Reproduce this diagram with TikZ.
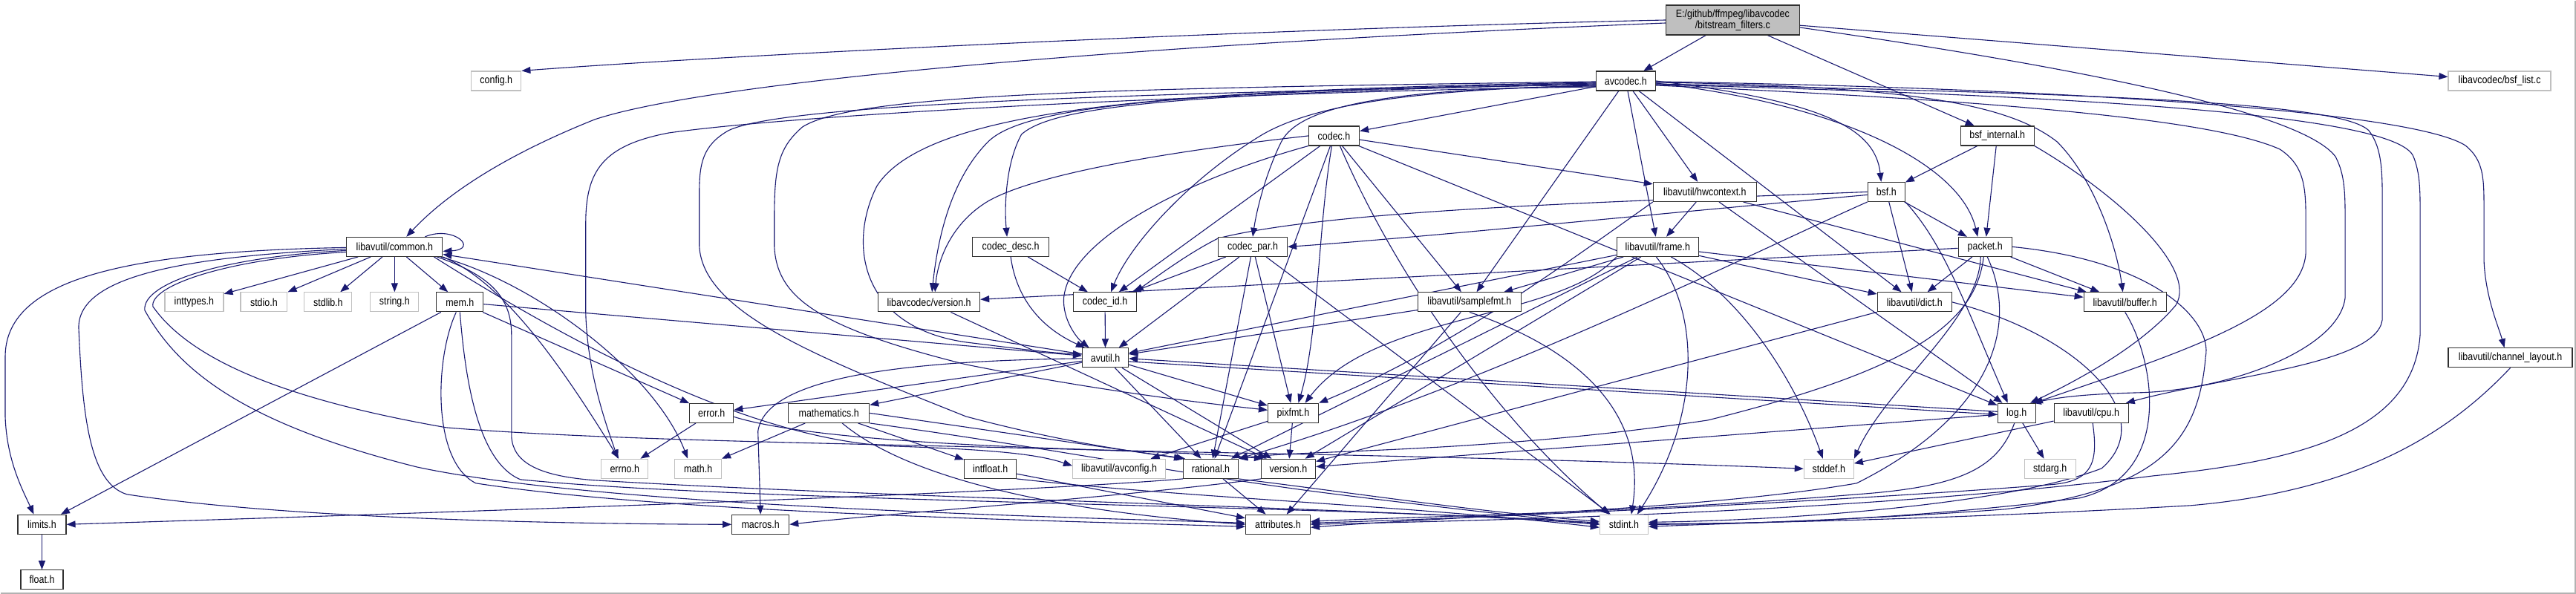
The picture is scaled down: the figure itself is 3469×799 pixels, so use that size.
\documentclass[tikz,border=0pt]{standalone}
\usepackage{fontspec}
\setmainfont{Liberation Sans}
\newfontfamily\nodefont[FakeStretch=0.86]{Liberation Sans}
\usetikzlibrary{arrows.meta}
\definecolor{edgec}{HTML}{191970}
\definecolor{gborder}{HTML}{C0C0C0}
\definecolor{mainfill}{HTML}{BFBFBF}
\definecolor{bborder}{HTML}{303030}
\pgfdeclarelayer{bg}
\pgfdeclarelayer{edges}
\pgfsetlayers{bg,edges,main}
\begin{document}
\begin{tikzpicture}[x=1pt,y=-1pt,
 box/.style={draw=bborder,line width=1.2pt,fill=white,minimum height=26pt,inner sep=0pt,font=\nodefont\fontsize{14.5}{16}\selectfont},
 gbox/.style={box,draw=gborder},
 e/.style={draw=edgec,line width=1.1pt,-{Triangle[length=12pt,width=9pt]}}]
\begin{pgfonlayer}{bg}
\fill[white] (0,0) rectangle (3469,799);
\draw[gray!60,line width=2pt] (3468,0) -- (3468,798) -- (0,798);
\end{pgfonlayer}
\useasboundingbox (0,0) rectangle (3469,799);
% nodes
\node[box,minimum width=180pt,minimum height=40pt,fill=mainfill,align=center,font=\nodefont\fontsize{14.5}{15}\selectfont] (m) at (2333,26) {E:/github/ffmpeg/libavcodec\\/bitstream\_filters.c};
\node[gbox,minimum width=67pt] (config) at (667.5,108) {config.h};
\node[box,minimum width=80pt] (av) at (2189,108) {avcodec.h};
\node[gbox,minimum width=138pt] (bsflist) at (3366,108) {libavcodec/bsf\_list.c};
\node[box,minimum width=68pt] (codec) at (1796,182) {codec.h};
\node[box,minimum width=99pt] (bsfint) at (2689.5,182) {bsf\_internal.h};
\node[box,minimum width=139pt] (hw) at (2295.5,257.5) {libavutil/hwcontext.h};
\node[box,minimum width=50pt] (bsf) at (2540,257.5) {bsf.h};
\node[box,minimum width=129pt] (common) at (530.5,331.5) {libavutil/common.h};
\node[box,minimum width=103pt] (cdesc) at (1360.5,331.5) {codec\_desc.h};
\node[box,minimum width=93pt] (cpar) at (1686.5,331.5) {codec\_par.h};
\node[box,minimum width=110pt] (frame) at (2232,331.5) {libavutil/frame.h};
\node[box,minimum width=72pt] (packet) at (2673,331.5) {packet.h};
\node[gbox,minimum width=79pt] (inttypes) at (260.5,406) {inttypes.h};
\node[gbox,minimum width=63pt] (stdio) at (354.5,406) {stdio.h};
\node[gbox,minimum width=64pt] (stdlib) at (441,406) {stdlib.h};
\node[gbox,minimum width=65pt] (string) at (530.5,406) {string.h};
\node[box,minimum width=63pt] (mem) at (618.5,406) {mem.h};
\node[box,minimum width=137pt] (lcver) at (1250.5,406) {libavcodec/version.h};
\node[box,minimum width=85pt] (cid) at (1487.5,406) {codec\_id.h};
\node[box,minimum width=139pt] (sfmt) at (1978.5,406) {libavutil/samplefmt.h};
\node[box,minimum width=100pt] (dict) at (2578,406) {libavutil/dict.h};
\node[box,minimum width=111pt] (buffer) at (2861.5,406) {libavutil/buffer.h};
\node[box,minimum width=62pt] (avutil) at (1488,481) {avutil.h};
\node[box,minimum width=167pt] (chl) at (3380.5,481) {libavutil/channel\_layout.h};
\node[box,minimum width=59pt] (error) at (957.5,555.5) {error.h};
\node[box,minimum width=109pt] (maths) at (1115.5,555.5) {mathematics.h};
\node[box,minimum width=68pt] (pixfmt) at (1741,555.5) {pixfmt.h};
\node[box,minimum width=51pt] (log) at (2715.5,555.5) {log.h};
\node[box,minimum width=100pt] (cpu) at (2816,555.5) {libavutil/cpu.h};
\node[gbox,minimum width=63pt] (errno) at (840.5,630.5) {errno.h};
\node[gbox,minimum width=63pt] (mathh) at (939.5,630.5) {math.h};
\node[box,minimum width=70pt] (intfloat) at (1333,630.5) {intfloat.h};
\node[gbox,minimum width=125pt] (avconfig) at (1506.5,630.5) {libavutil/avconfig.h};
\node[box,minimum width=74pt] (rational) at (1630,630.5) {rational.h};
\node[box,minimum width=73pt] (version) at (1734.5,630.5) {version.h};
\node[gbox,minimum width=67pt] (stddef) at (2462.5,630.5) {stddef.h};
\node[gbox,minimum width=69pt] (stdarg) at (2760.5,630.5) {stdarg.h};
\node[box,minimum width=65pt] (limits) at (55.5,705.5) {limits.h};
\node[box,minimum width=77pt] (macros) at (1023.5,705.5) {macros.h};
\node[box,minimum width=87pt] (attr) at (1720.5,705.5) {attributes.h};
\node[gbox,minimum width=65pt] (stdint) at (2186.5,705.5) {stdint.h};
\node[box,minimum width=57pt] (float) at (55.5,780) {float.h};
\begin{pgfonlayer}{edges}
% main file
\draw[e] (m) -- (av);
\draw[e] (m.west) .. controls (1700,38) and (1000,72) .. (config.north east);
\draw[e] ([yshift=-4pt]m.west) .. controls (1500,60) and (950,110) .. (800,160) .. controls (700,200) and (610,250) .. ([xshift=16pt]common.north);
\draw[e] (m) -- (bsfint);
\draw[e] (m) -- (bsflist);
\draw[e] ([yshift=-10pt]m.east) .. controls (2800,90) and (3100,150) .. (3145,210) .. controls (3158,235) and (3158,260) .. (3158,300) -- (3158,400) .. controls (3150,470) and (3000,525) .. (2880,528) .. controls (2800,530) and (2770,535) .. ([xshift=-5pt]log.north east);
% avcodec.h
\draw[e] (av) -- (codec);
\draw[e] (av) -- (hw);
\draw[e] (av) -- (frame);
\draw[e] (av.east) .. controls (2450,135) and (2525,170) .. ([xshift=-7pt]bsf.north);
\draw[e] ([yshift=-3pt]av.east) .. controls (2480,140) and (2640,220) .. ([xshift=-10pt]packet.north);
\draw[e] (av) -- (dict);
\draw[e] ([yshift=-2pt]av.east) .. controls (2550,115) and (2700,135) .. (2770,190) .. controls (2820,240) and (2850,330) .. ([xshift=-3pt]buffer.north);
\draw[e] ([yshift=-6pt]av.east) .. controls (2700,135) and (2980,160) .. (3070,200) .. controls (3100,220) and (3105,245) .. (3105,290) -- (3105,340) .. controls (3100,420) and (2950,470) .. ([xshift=-3pt]log.north east);
\draw[e] ([yshift=-4pt]av.east) .. controls (2800,125) and (3150,135) .. (3190,175) .. controls (3205,195) and (3208,220) .. (3208,260) -- (3208,430) .. controls (3200,490) and (3000,505) .. ([xshift=-4pt]cpu.north east);
\draw[e] ([yshift=-5pt]av.east) .. controls (2900,130) and (3230,160) .. (3250,210) .. controls (3258,230) and (3259,250) .. (3259,280) -- (3259,450) .. controls (3250,580) and (3100,620) .. (2900,640) .. controls (2500,690) and (2000,700) .. (attr.east);
\draw[e] ([yshift=-1pt]av.east) .. controls (2800,118) and (3250,150) .. (3320,195) .. controls (3345,215) and (3345,240) .. (3345,280) -- (3345,350) .. controls (3347,400) and (3365,440) .. ([xshift=-8pt]chl.north);
\draw[e] ([yshift=-8pt]av.west) .. controls (1700,122) and (1100,150) .. (900,178) .. controls (810,195) and (788,230) .. (788,300) -- (788,420) .. controls (790,500) and (815,570) .. ([xshift=-9pt]errno.north);
\draw[e] ([yshift=-4pt]av.west) .. controls (1600,125) and (1420,140) .. (1375,180) .. controls (1353,220) and (1352,280) .. ([xshift=-5pt]cdesc.north);
\draw[e] ([yshift=-3pt]av.west) .. controls (1600,122) and (1380,140) .. (1330,190) .. controls (1280,240) and (1262,320) .. ([xshift=4pt]lcver.north);
\draw[e] ([yshift=-6pt]av.west) .. controls (1900,120) and (1770,140) .. (1700,180) .. controls (1600,240) and (1520,330) .. ([xshift=8pt]cid.north);
\draw[e] ([yshift=-7pt]av.west) .. controls (1880,118) and (1750,140) .. (1725,190) .. controls (1705,230) and (1692,280) .. (cpar.north);
\draw[e] ([yshift=-2pt]av.west) .. controls (1600,120) and (1250,140) .. (1180,250) .. controls (1140,330) and (1160,440) .. (1300,460) .. controls (1380,470) and (1420,475) .. ([yshift=5pt]avutil.west);
\draw[e] ([yshift=-1pt]av.west) .. controls (1500,118) and (1150,125) .. (1080,170) .. controls (1045,200) and (1042,230) .. (1042,300) -- (1042,330) .. controls (1045,400) and (1100,440) .. (1300,490) .. controls (1500,530) and (1650,545) .. ([yshift=4pt]pixfmt.west);
\draw[e] ([yshift=-5pt]av.west) .. controls (1500,125) and (1050,140) .. (980,175) .. controls (945,195) and (941,220) .. (941,260) -- (941,330) .. controls (945,420) and (1100,480) .. (1300,560) .. controls (1450,600) and (1550,610) .. ([xshift=3pt]rational.north west);
\draw[e] (av) -- (sfmt);
% codec.h
\draw[e] (codec) -- (hw);
\draw[e] (codec.south west) .. controls (1600,240) and (1440,320) .. (1432,400) .. controls (1430,430) and (1450,455) .. ([xshift=-22pt]avutil.north);
\draw[e] (codec) -- (log);
\draw[e] ([xshift=-3pt]codec.south) .. controls (1775,300) and (1775,450) .. ([xshift=7pt]pixfmt.north);
\draw[e] (codec) -- (rational);
\draw[e] (codec) -- (sfmt);
\draw[e] (codec) -- (cid);
\draw[e] (codec.west) .. controls (1600,200) and (1400,230) .. (1330,270) .. controls (1280,300) and (1262,350) .. ([xshift=8pt]lcver.north);
\draw[e] ([xshift=8pt]codec.south) .. controls (1870,350) and (2000,550) .. ([xshift=-20pt]stdint.north);
% codec_desc.h, codec_par.h, codec_id.h, version
\draw[e] (cdesc.south) .. controls (1368,400) and (1400,440) .. ([xshift=4pt]avutil.north west);
\draw[e] (cdesc) -- (cid);
\draw[e] (cpar) -- (avutil);
\draw[e] (cpar) -- (cid);
\draw[e] (cpar) -- (pixfmt);
\draw[e] (cpar) -- (rational);
\draw[e] (cpar) -- (stdint);
\draw[e] (cid) -- (avutil);
\draw[e] (lcver) -- (version);
% hwcontext.h
\draw[e] (hw) -- (frame);
\draw[e] (hw) -- (buffer);
\draw[e] (hw) -- (log);
\draw[e] (hw.south west) .. controls (2100,360) and (1950,470) .. (pixfmt.north east);
% bsf.h
\draw[e] (bsf) -- (dict);
\draw[e] (bsf.south east) .. controls (2620,330) and (2650,420) .. ([xshift=-12pt]log.north);
\draw[e] (bsf.south west) .. controls (2380,330) and (2000,520) .. (rational.north east);
\draw[e] (bsf.west) .. controls (2200,270) and (1800,280) .. (1640,320) .. controls (1600,340) and (1560,370) .. ([xshift=-3pt]cid.north east);
\draw[e] ([yshift=-4pt]bsf.west) .. controls (2200,290) and (1900,320) .. (cpar.east);
\draw[e] (bsf) -- (packet);
% bsf_internal.h
\draw[e] (bsfint) -- (bsf);
\draw[e] (bsfint) -- (packet);
\draw[e] (bsfint.south east) .. controls (2850,260) and (2960,360) .. (2930,410) .. controls (2880,470) and (2780,520) .. ([xshift=-8pt]log.north east);
% frame.h
\draw[e] (frame) -- (avutil);
\draw[e] (frame) -- (buffer);
\draw[e] (frame) -- (dict);
\draw[e] (frame) -- (rational);
\draw[e] (frame) -- (sfmt);
\draw[e] (frame.south west) .. controls (2100,430) and (1850,420) .. ([xshift=16pt]pixfmt.north);
\draw[e] (frame) -- (version);
\draw[e] ([xshift=18pt]frame.south) .. controls (2350,400) and (2420,520) .. ([xshift=-8pt]stddef.north);
\draw[e] ([xshift=-2pt]frame.south) .. controls (2290,420) and (2290,560) .. ([xshift=18pt]stdint.north);
% samplefmt.h
\draw[e] (sfmt) -- (avutil);
\draw[e] (sfmt) -- (attr);
\draw[e] (sfmt.south) .. controls (2100,460) and (2220,540) .. ([xshift=10pt]stdint.north);
% dict.h, buffer.h
\draw[e] (dict) -- (version);
\draw[e] (dict.east) .. controls (2800,450) and (2910,560) .. (2830,630) .. controls (2700,680) and (2400,700) .. ([yshift=3pt]stdint.east);
\draw[e] (buffer.south) .. controls (2900,480) and (2930,640) .. (2800,670) .. controls (2600,695) and (2400,705) .. (stdint.east);
% packet.h
\draw[e] (packet) -- (dict);
\draw[e] (packet) -- (buffer);
\draw[e] (packet) -- (lcver);
\draw[e] ([xshift=-6pt]packet.south) .. controls (2665,430) and (2540,520) .. (stddef.north east);
\draw[e] ([xshift=-2pt]packet.south) .. controls (2660,440) and (2560,500) .. (2300,565) .. controls (2000,610) and (1750,605) .. (rational.north east);
\draw[e] ([xshift=3pt]packet.south) .. controls (2720,440) and (2680,560) .. (2500,650) .. controls (2300,685) and (1950,695) .. ([yshift=-4pt]attr.east);
\draw[e] (packet.east) .. controls (2900,350) and (2980,430) .. (2970,480) .. controls (2960,600) and (2900,660) .. (2700,685) .. controls (2500,700) and (2300,705) .. ([yshift=-3pt]stdint.east);
% avutil.h
\draw[e] (avutil) -- (common);
\draw[e] (avutil) -- (error);
\draw[e] (avutil) -- (maths);
\draw[e] ([yshift=-1pt]avutil.west) .. controls (1200,485) and (1030,510) .. (1020,580) -- (macros.north);
\draw[e] (avutil) -- (version);
\draw[e] (avutil) -- (rational);
\draw[e] ([yshift=-5pt]avutil.east) -- ([yshift=-2pt]log.west);
\draw[e] ([yshift=2pt]log.west) -- ([yshift=-1pt]avutil.east);
\draw[e] (avutil) -- (pixfmt);
% error.h, mathematics.h, intfloat.h, rational.h, version.h
\draw[e] (error) -- (errno);
\draw[e] ([yshift=-5pt]error.east) .. controls (1050,580) and (1200,600) .. (1600,608) .. controls (2000,615) and (2300,625) .. (stddef.west);
\draw[e] (maths) -- (mathh);
\draw[e] (maths) -- (intfloat);
\draw[e] (maths.east) -- (rational.north west);
\draw[e] ([xshift=18pt]maths.south) .. controls (1230,650) and (1450,690) .. (attr.west);
\draw[e] (maths.south east) .. controls (1400,600) and (1600,640) .. (1800,665) .. controls (2000,690) and (2100,700) .. (stdint.west);
\draw[e] (intfloat) -- (attr);
\draw[e] (intfloat.south east) .. controls (1600,670) and (1900,680) .. ([yshift=-4pt]stdint.west);
\draw[e] (rational) -- (attr);
\draw[e] (rational.south west) .. controls (1400,660) and (900,680) .. (limits.east);
\draw[e] (rational.south east) .. controls (1800,660) and (2000,690) .. ([yshift=4pt]stdint.west);
\draw[e] (version.south west) .. controls (1500,670) and (1200,690) .. (macros.east);
% log.h
\draw[e] (log) -- (version);
\draw[e] (log) -- (stdarg);
\draw[e] ([xshift=-3pt]log.south) .. controls (2690,630) and (2640,655) .. (2500,665) .. controls (2200,690) and (1900,695) .. ([yshift=4pt]attr.east);
% mem.h
\draw[e] (mem) -- (limits);
\draw[e] (mem) -- (avutil);
\draw[e] (mem) -- (error);
\draw[e] ([xshift=-5pt]mem.south) .. controls (585,480) and (580,620) .. (640,650) .. controls (900,690) and (1400,700) .. ([yshift=-3pt]attr.west);
\draw[e] (mem.south) .. controls (625,500) and (640,620) .. (700,645) .. controls (1000,675) and (1800,680) .. ([yshift=2pt]stdint.west);
% cpu.h, channel_layout.h, limits.h, pixfmt.h
\draw[e] (cpu) -- (stddef);
\draw[e] ([xshift=2pt]cpu.south) .. controls (2825,620) and (2820,648) .. (2760,652) .. controls (2400,680) and (1900,700) .. ([yshift=2pt]attr.east);
\draw[e] (chl.south) .. controls (3300,580) and (3180,660) .. (2950,680) .. controls (2600,700) and (2300,705) .. ([yshift=1pt]stdint.east);
\draw[e] (limits) -- (float);
\draw[e] (pixfmt) -- (avconfig);
\draw[e] (pixfmt) -- (version);
% common.h
\draw[e] ([xshift=-24pt]common.north east) .. controls (610,302) and (645,335) .. ([yshift=-6pt]common.east);
\draw[e] (common) -- (inttypes);
\draw[e] (common) -- (stdio);
\draw[e] (common) -- (stdlib);
\draw[e] (common) -- (string);
\draw[e] (common) -- (mem);
\draw[e] ([yshift=-1pt]common.west) .. controls (150,338) and (6,380) .. (6,480) -- (6,560) .. controls (8,620) and (30,660) .. ([xshift=-11pt]limits.north);
\draw[e] ([yshift=-3pt]common.west) .. controls (250,345) and (105,370) .. (105,440) .. controls (110,560) and (120,650) .. (170,665) .. controls (400,700) and (800,705) .. (macros.west);
\draw[e] ([yshift=-5pt]common.west) .. controls (300,345) and (190,380) .. (194,417) .. controls (240,500) and (330,570) .. (560,628) .. controls (800,680) and (1400,695) .. ([yshift=2pt]attr.west);
\draw[e] ([yshift=-7pt]common.west) .. controls (300,348) and (200,385) .. (205,412) .. controls (260,490) and (400,540) .. (600,575) .. controls (900,600) and (1500,598) .. ([xshift=3pt]version.north west);
\draw[e] (common.south east) .. controls (680,380) and (760,500) .. ([xshift=-8pt]errno.north);
\draw[e] ([xshift=-3pt]common.south east) .. controls (720,380) and (880,500) .. ([xshift=-14pt]mathh.north);
\draw[e] ([xshift=-8pt]common.south east) .. controls (660,370) and (688,400) .. (688,450) -- (688,587) .. controls (690,620) and (720,640) .. (800,646) .. controls (1200,670) and (1900,685) .. (stdint.west);
\draw[e] ([xshift=-12pt]common.south east) .. controls (750,450) and (1000,590) .. (1200,600) .. controls (1350,605) and (1400,612) .. ([yshift=4pt]avconfig.west);
\end{pgfonlayer}
\end{tikzpicture}
\end{document}
